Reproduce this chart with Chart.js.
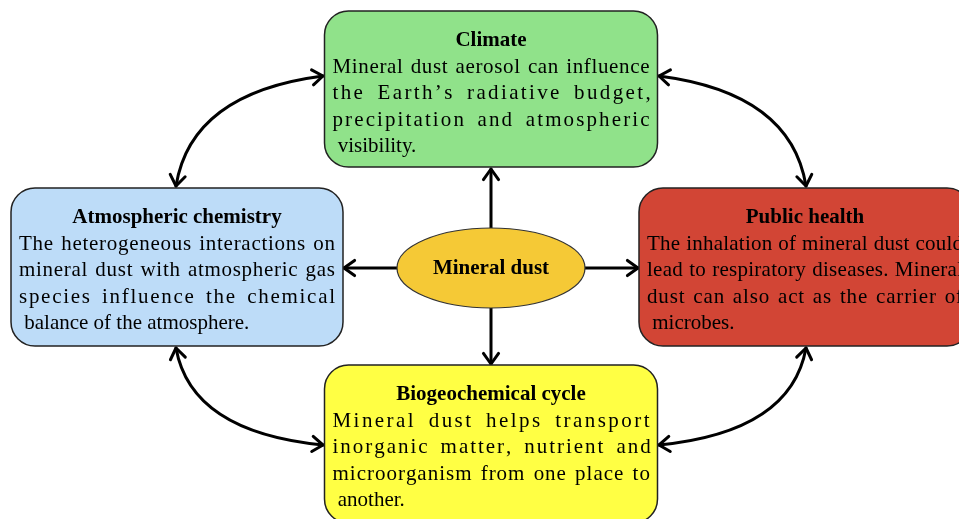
<!DOCTYPE html>
<html>
<head>
<meta charset="utf-8">
<script src="https://cdn.jsdelivr.net/npm/chart.js@4.4.0/dist/chart.umd.min.js"></script>
<style>
  html, body { margin: 0; padding: 0; background: #fff; }
  #wrap { width: 959px; height: 519px; }
</style>
</head>
<body>
<div id="wrap"><canvas id="diagram"></canvas></div>
<script>
// ------------------ Data ------------------

const centerLabel = "Mineral dust";
const nodeTitles = ["Climate", "Atmospheric chemistry", "Public health", "Biogeochemical cycle"];
const nodeLines = [
  ["Mineral dust aerosol can influence", "the Earth\u2019s radiative budget,", "precipitation and atmospheric", " visibility."],
  ["The heterogeneous interactions on", "mineral dust with atmospheric gas", "species influence the chemical", " balance of the atmosphere."],
  ["The inhalation of mineral dust could", "lead to respiratory diseases. Mineral", "dust can also act as the carrier of", " microbes."],
  ["Mineral dust helps transport", "inorganic matter, nutrient and", "microorganism from one place to", " another."]
];
// node pairs joined by curved two-way arrows
const links = [[0, 1], [0, 2], [1, 3], [2, 3]];

// ------------------ Layout (pixel space of the canvas) ------------------

const layout = {
  boxes: [
    { cx: 491, cy: 89, w: 333, h: 156, fill: "#90e28a" },
    { cx: 177, cy: 267, w: 332, h: 158, fill: "#bddcf8" },
    { cx: 805, cy: 267, w: 332, h: 158, fill: "#d24535" },
    { cx: 491, cy: 444, w: 333, h: 158, fill: "#ffff44" }
  ],
  hub: { cx: 491, cy: 268, rx: 94, ry: 40, fill: "#f5c936" },
  curves: [
    { from: [323, 76], ctrl: [191, 93], to: [176, 186] },
    { from: [659, 76], ctrl: [791, 93], to: [806, 186] },
    { from: [176, 348], ctrl: [191, 432], to: [323, 445] },
    { from: [806, 348], ctrl: [791, 432], to: [659, 445] }
  ]
};

// ------------------ Drawing helpers ------------------

function arrowHead(ctx, x, y, ang) {
  const len = 13, spread = 0.62;
  ctx.beginPath();
  ctx.moveTo(x - len * Math.cos(ang - spread), y - len * Math.sin(ang - spread));
  ctx.lineTo(x, y);
  ctx.lineTo(x - len * Math.cos(ang + spread), y - len * Math.sin(ang + spread));
  ctx.stroke();
}

// spread a line across the width, mostly in the word gaps, a little between letters
function justify(ctx, line, x, y, width, stretch) {
  if (!stretch) { ctx.fillText(line, x, y); return; }
  const words = line.split(" ");
  const natural = ctx.measureText(line).width;
  let charGaps = 0;
  words.forEach(w => { charGaps += Math.max(0, w.length - 1); });
  const wordGaps = words.length - 1;
  const wWeight = 4;
  const unit = (width - natural) / (wordGaps * wWeight + charGaps);
  const spaceW = ctx.measureText(" ").width;
  let cx = x;
  words.forEach((w, wi) => {
    for (let i = 0; i < w.length; i++) {
      ctx.fillText(w[i], cx, y);
      cx += ctx.measureText(w[i]).width;
      if (i < w.length - 1) cx += unit;
    }
    if (wi < words.length - 1) cx += spaceW + unit * wWeight;
  });
}

const diagramPlugin = {
  id: "diagram",
  afterDatasetsDraw(chart) {
    const ctx = chart.ctx;
    const sx = chart.scales.x, sy = chart.scales.y;
    const px = v => sx.getPixelForValue(v);
    const py = v => sy.getPixelForValue(v);
    ctx.save();
    ctx.lineCap = "round";
    ctx.lineJoin = "round";

    // straight arrows from the hub to each box
    const hub = layout.hub;
    ctx.strokeStyle = "#000";
    ctx.lineWidth = 3;
    const spokes = [
      [hub.cx, hub.cy - hub.ry, hub.cx, 169],
      [hub.cx, hub.cy + hub.ry, hub.cx, 364],
      [hub.cx - hub.rx, hub.cy, 344, hub.cy],
      [hub.cx + hub.rx, hub.cy, 638, hub.cy]
    ];
    spokes.forEach(s => {
      const x1 = px(s[0]), y1 = py(s[1]), x2 = px(s[2]), y2 = py(s[3]);
      ctx.beginPath(); ctx.moveTo(x1, y1); ctx.lineTo(x2, y2); ctx.stroke();
      arrowHead(ctx, x2, y2, Math.atan2(y2 - y1, x2 - x1));
    });

    // curved two-way arrows
    links.forEach((pair, i) => {
      const c = layout.curves[i];
      const a = [px(c.from[0]), py(c.from[1])];
      const k = [px(c.ctrl[0]), py(c.ctrl[1])];
      const b = [px(c.to[0]), py(c.to[1])];
      ctx.beginPath(); ctx.moveTo(a[0], a[1]);
      ctx.quadraticCurveTo(k[0], k[1], b[0], b[1]);
      ctx.stroke();
      arrowHead(ctx, b[0], b[1], Math.atan2(b[1] - k[1], b[0] - k[0]));
      arrowHead(ctx, a[0], a[1], Math.atan2(a[1] - k[1], a[0] - k[0]));
    });

    // boxes
    layout.boxes.forEach((bx, i) => {
      const x0 = px(bx.cx - bx.w / 2), y0 = py(bx.cy - bx.h / 2);
      const w = px(bx.cx + bx.w / 2) - x0, h = py(bx.cy + bx.h / 2) - y0;
      ctx.beginPath();
      ctx.roundRect(x0, y0, w, h, 24);
      ctx.fillStyle = bx.fill;
      ctx.fill();
      ctx.lineWidth = 1.5;
      ctx.strokeStyle = "#222";
      ctx.stroke();

      ctx.fillStyle = "#000";
      ctx.textBaseline = "alphabetic";
      ctx.textAlign = "center";
      ctx.font = "bold 21px 'Liberation Serif', serif";
      ctx.fillText(nodeTitles[i], x0 + w / 2, y0 + 35);

      ctx.textAlign = "left";
      ctx.font = "21px 'Liberation Serif', serif";
      nodeLines[i].forEach((ln, li) => {
        const last = li === nodeLines[i].length - 1;
        justify(ctx, ln, x0 + 8, y0 + 62 + li * 26.3, w - 16, !last);
      });
    });

    // hub ellipse
    ctx.beginPath();
    ctx.ellipse(px(hub.cx), py(hub.cy), hub.rx, hub.ry, 0, 0, Math.PI * 2);
    ctx.fillStyle = hub.fill;
    ctx.fill();
    ctx.lineWidth = 1.2;
    ctx.strokeStyle = "#333";
    ctx.stroke();
    ctx.fillStyle = "#000";
    ctx.textAlign = "center";
    ctx.textBaseline = "middle";
    ctx.font = "bold 21px 'Liberation Serif', serif";
    ctx.fillText(centerLabel, px(hub.cx), py(hub.cy) + 1);

    ctx.restore();
  }
};

// ------------------ Chart ------------------

const points = layout.boxes.map(b => ({ x: b.cx, y: b.cy }))
  .concat([{ x: layout.hub.cx, y: layout.hub.cy }]);

new Chart(document.getElementById("diagram").getContext("2d"), {
  type: "scatter",
  data: { datasets: [{ data: points, pointRadius: 0, pointHoverRadius: 0 }] },
  options: {
    responsive: true,
    maintainAspectRatio: false,
    animation: false,
    layout: { padding: 0 },
    plugins: { legend: { display: false }, tooltip: { enabled: false } },
    events: [],
    scales: {
      x: { type: "linear", min: 0, max: 959, display: false },
      y: { type: "linear", min: 0, max: 519, reverse: true, display: false }
    }
  },
  plugins: [diagramPlugin]
});
</script>
</body>
</html>
